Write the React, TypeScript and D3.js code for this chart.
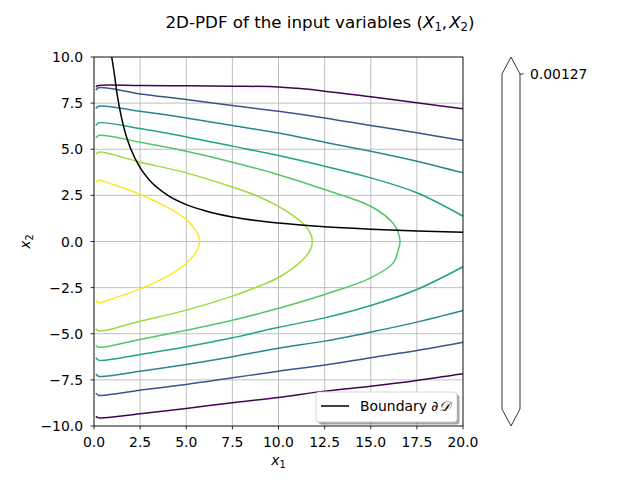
import * as d3 from "d3";

type Pt = [number, number];

// axis ticks
const xTicks = [0, 2.5, 5, 7.5, 10, 12.5, 15, 17.5, 20];
const yTicks = [-10, -7.5, -5, -2.5, 0, 2.5, 5, 7.5, 10];

// contour colours, outer (low density) to inner (high density)
const levelColors = ["#440154", "#3b528b", "#2a858e", "#21a386", "#55c567", "#a0da39", "#fde725"];

// contour branches: upper (x2 > 0) and lower (x2 < 0)
const upperBranches: Pt[][] = [
  [[0.1, 8.38], [0.25, 8.45], [2.5, 8.45], [5, 8.44], [7.5, 8.42], [10, 8.38], [11, 8.3], [12.5, 8.15], [15, 7.84], [17.5, 7.52], [20, 7.19]],
  [[0.1, 8.2], [0.25, 8.33], [2.5, 8.0], [5, 7.7], [7.5, 7.37], [10, 7.06], [12.5, 6.7], [15, 6.29], [17.5, 5.89], [20, 5.47]],
  [[0.1, 7.2], [0.25, 7.33], [2.5, 7.06], [5, 6.7], [7.5, 6.29], [10, 5.88], [12.5, 5.38], [15, 4.89], [17.5, 4.35], [20, 3.72]],
  [[0.1, 6.3], [0.25, 6.43], [2.5, 6.12], [5, 5.67], [7.5, 5.17], [10, 4.66], [12.5, 4.08], [15, 3.45], [17.5, 2.64], [20, 1.37]],
  [[0.1, 5.62], [0.25, 5.75], [2.5, 5.38], [5, 4.89], [7.5, 4.3], [10, 3.62], [12.5, 2.82], [15, 1.91], [16.2, 1.0], [16.48, 0.5], [16.59, 0]],
  [[0.1, 4.72], [0.25, 4.84], [2.5, 4.3], [5, 3.72], [7.5, 2.95], [9, 2.4], [10, 1.9], [11.3, 1.0], [11.75, 0.4], [11.83, 0]],
  [[0.1, 3.2], [0.25, 3.32], [1, 3.1], [2.5, 2.55], [4.2, 1.73], [5, 1.2], [5.5, 0.62], [5.67, 0.3], [5.72, 0]],
];

const lowerBranches: Pt[][] = [
  [[0.1, -9.48], [0.25, -9.56], [2.5, -9.34], [5, -9.05], [7.5, -8.74], [10, -8.45], [12.5, -8.11], [15, -7.84], [17.5, -7.53], [20, -7.17]],
  [[0.1, -8.22], [0.25, -8.33], [2.5, -8.06], [5, -7.75], [7.5, -7.39], [10, -7.03], [12.5, -6.7], [15, -6.3], [17.5, -5.91], [20, -5.46]],
  [[0.1, -7.18], [0.25, -7.3], [2.5, -7.03], [5, -6.67], [7.5, -6.25], [10, -5.78], [12.5, -5.4], [15, -4.91], [17.5, -4.37], [20, -3.74]],
  [[0.1, -6.3], [0.25, -6.43], [2.5, -6.12], [5, -5.71], [7.5, -5.22], [10, -4.65], [12.5, -4.14], [15, -3.47], [17.5, -2.6], [20, -1.37]],
  [[0.1, -5.62], [0.25, -5.73], [2.5, -5.31], [5, -4.81], [7.5, -4.27], [10, -3.62], [12.5, -2.87], [15, -1.97], [16.22, -1.16], [16.48, -0.5], [16.59, 0]],
  [[0.1, -4.72], [0.25, -4.85], [2.5, -4.32], [5, -3.72], [7.5, -2.96], [9, -2.4], [10, -1.95], [11.3, -1.0], [11.75, -0.4], [11.83, 0]],
  [[0.1, -3.2], [0.25, -3.32], [1, -3.1], [2.5, -2.57], [4.2, -1.75], [5, -1.19], [5.5, -0.62], [5.67, -0.3], [5.72, 0]],
];

// limit-state boundary
const boundary: Pt[] = [
  [0.96, 10], [1.1, 9.1], [1.25, 8], [1.5, 6.67], [1.75, 5.7], [2, 5], [2.5, 4], [3, 3.33],
  [4, 2.5], [5, 2], [6, 1.67], [7.5, 1.33], [10, 1], [12.5, 0.8], [15, 0.67], [17.5, 0.57], [20, 0.5],
];

const colorbarTick = "0.00127";

const FONT = "DejaVu Sans, sans-serif";

const fmt = (v: number) => v.toFixed(1).replace("-", "\u2212");

export default function App() {
  const left = 94, right = 463, top = 57, bottom = 426;
  const x = d3.scaleLinear().domain([0, 20]).range([left, right]);
  const y = d3.scaleLinear().domain([-10, 10]).range([bottom, top]);

  const line = d3
    .line<Pt>()
    .x((d) => x(d[0]))
    .y((d) => y(d[1]))
    .curve(d3.curveCatmullRom.alpha(0.5));

  const smooth = d3
    .line<Pt>()
    .x((d) => x(d[0]))
    .y((d) => y(d[1]))
    .curve(d3.curveMonotoneX);

  // join branches that meet on the x2 = 0 axis into one curve
  const contourPaths = levelColors.map((c, i) => {
    const up = upperBranches[i];
    const lo = lowerBranches[i];
    const closes = up[up.length - 1][1] === 0 && lo[lo.length - 1][1] === 0;
    const d = closes
      ? [line([...up, ...lo.slice(0, -1).reverse()])]
      : [line(up), line(lo)];
    return { c, d };
  });

  // colorbar geometry
  const cbL = 502, cbR = 520, cbTop = 74, cbBot = 409;
  const cbMid = (cbL + cbR) / 2;

  return (
    <svg width={640} height={480} style={{ position: "absolute", left: 0, top: 0, background: "white" }} fontFamily={FONT}>
      <defs>
        <clipPath id="plot">
          <rect x={left} y={top} width={right - left} height={bottom - top} />
        </clipPath>
      </defs>
      <rect width={640} height={480} fill="white" />

      {/* title */}
      <text x={320} y={27.5} fontSize={16.7} textAnchor="middle" fill="black">
        2D-PDF of the input variables (
        <tspan fontStyle="italic">X</tspan>
        <tspan fontSize={11.7} dy={3}>1</tspan>
        <tspan dy={-3}>,</tspan>
        <tspan fontStyle="italic" dx={2}>X</tspan>
        <tspan fontSize={11.7} dy={3}>2</tspan>
        <tspan dy={-3}>)</tspan>
      </text>

      {/* grid */}
      <g stroke="#b0b0b0" strokeWidth={0.8}>
        {xTicks.map((t) => (
          <line key={"gx" + t} x1={x(t)} x2={x(t)} y1={top} y2={bottom} />
        ))}
        {yTicks.map((t) => (
          <line key={"gy" + t} x1={left} x2={right} y1={y(t)} y2={y(t)} />
        ))}
      </g>

      {/* contours */}
      <g clipPath="url(#plot)" fill="none" strokeWidth={1.5}>
        {contourPaths.map(({ c, d }, i) =>
          d.map((p, j) => <path key={i + "-" + j} d={p ?? ""} stroke={c} />)
        )}
        <path d={smooth(boundary) ?? ""} stroke="black" strokeWidth={1.5} />
      </g>

      {/* spines */}
      <rect x={left} y={top} width={right - left} height={bottom - top} fill="none" stroke="black" strokeWidth={0.8} />

      {/* ticks */}
      <g fontSize={13.9} fill="black">
        {xTicks.map((t) => (
          <g key={"tx" + t}>
            <line x1={x(t)} x2={x(t)} y1={bottom} y2={bottom + 3.5} stroke="black" strokeWidth={0.8} />
            <text x={x(t)} y={447} textAnchor="middle">{fmt(t)}</text>
          </g>
        ))}
        {yTicks.map((t) => (
          <g key={"ty" + t}>
            <line x1={left - 3.5} x2={left} y1={y(t)} y2={y(t)} stroke="black" strokeWidth={0.8} />
            <text x={83} y={y(t)} dy="0.36em" textAnchor="end">{fmt(t)}</text>
          </g>
        ))}
      </g>

      {/* axis labels */}
      <text x={(left + right) / 2} y={465} fontSize={13.9} textAnchor="middle">
        <tspan fontStyle="italic">x</tspan>
        <tspan fontSize={9.7} dy={2.5}>1</tspan>
      </text>
      <text transform={`translate(30,${(top + bottom) / 2}) rotate(-90)`} fontSize={13.9} textAnchor="middle">
        <tspan fontStyle="italic">x</tspan>
        <tspan fontSize={9.7} dy={2.5}>2</tspan>
      </text>

      {/* legend */}
      <g>
        <rect x={318.5} y={394.5} width={141} height={30} rx={3} fill="#000" fillOpacity={0.35} />
        <rect x={316} y={392} width={141} height={30} rx={3} fill="white" stroke="#cccccc" strokeWidth={0.8} />
        <line x1={321} x2={349} y1={406} y2={406} stroke="black" strokeWidth={1.5} />
        <text x={360} y={411} fontSize={13.9} fill="black">
          Boundary ∂<tspan fontStyle="italic" fontFamily="DejaVu Serif, serif">𝒟</tspan>
        </text>
      </g>

      {/* colorbar */}
      <path
        d={`M${cbL},${cbTop} L${cbMid},${top} L${cbR},${cbTop} L${cbR},${cbBot} L${cbMid},${bottom} L${cbL},${cbBot} Z`}
        fill="white"
        stroke="black"
        strokeWidth={0.8}
      />
      <line x1={cbR} x2={cbR + 3.5} y1={cbTop} y2={cbTop} stroke="black" strokeWidth={0.8} />
      <text x={530} y={cbTop} dy="0.36em" fontSize={13.9} fill="black">{colorbarTick}</text>
    </svg>
  );
}
